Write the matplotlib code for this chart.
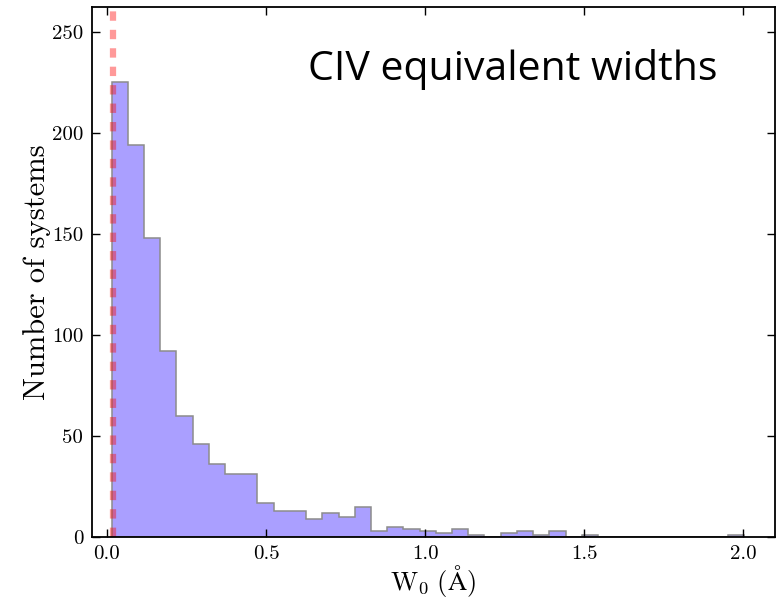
import numpy as np
import matplotlib
matplotlib.use('Agg')
import matplotlib.pyplot as plt

# histogram of CIV rest-frame equivalent widths (counts)
w_min = 0.0145
w_max = 2.0025
counts = [225, 194, 148, 92, 60, 46, 36, 31, 31, 17,
          13, 13, 9, 12, 10, 15, 3, 5, 4, 3,
          2, 4, 1, 0, 2, 3, 1, 3, 0, 1,
          0, 0, 0, 0, 0, 0, 0, 0, 1]
w_limit = 0.018
xticks = [0.0, 0.5, 1.0, 1.5, 2.0]
yticks = [0, 50, 100, 150, 200, 250]

edges = np.linspace(w_min, w_max, len(counts) + 1)

plt.rcParams['font.family'] = 'serif'
plt.rcParams['font.serif'] = ['cmr10']
plt.rcParams['mathtext.fontset'] = 'cm'
plt.rcParams['axes.formatter.use_mathtext'] = True

fig = plt.figure(figsize=(7.82, 6.0), dpi=100)
ax = fig.add_axes([0.1172, 0.105, 0.8738, 0.8828])

ax.hist(edges[:-1], bins=edges, weights=counts, histtype='stepfilled',
        facecolor='#aa9fff', edgecolor='#8c8c8c', linewidth=1.1)
ax.axvline(w_limit, color='red', alpha=0.4, linewidth=4.5,
           linestyle=(0, (1.5, 1.45)))

ax.set_xlim(-0.048, 2.1)
ax.set_ylim(0, 262)
ax.set_xticks(xticks)
ax.set_yticks(yticks)
ax.set_xticklabels(['%.1f' % t for t in xticks])
ax.set_yticklabels([str(t) for t in yticks])
ax.tick_params(direction='in', length=6, width=1, top=True, right=True,
               labelsize=15, pad=6)
for s in ax.spines.values():
    s.set_linewidth(1.3)

ax.set_xlabel(r'$\mathrm{W_0\ (\AA)}$', fontsize=19, labelpad=0)
ax.set_ylabel('Number of systems', fontsize=22, labelpad=1)

ax.text(0.317, 0.863, 'CIV equivalent widths', transform=ax.transAxes,
        family='Open Sans', fontsize=29.5, ha='left', va='baseline')

fig.savefig('out.png', dpi=100)
